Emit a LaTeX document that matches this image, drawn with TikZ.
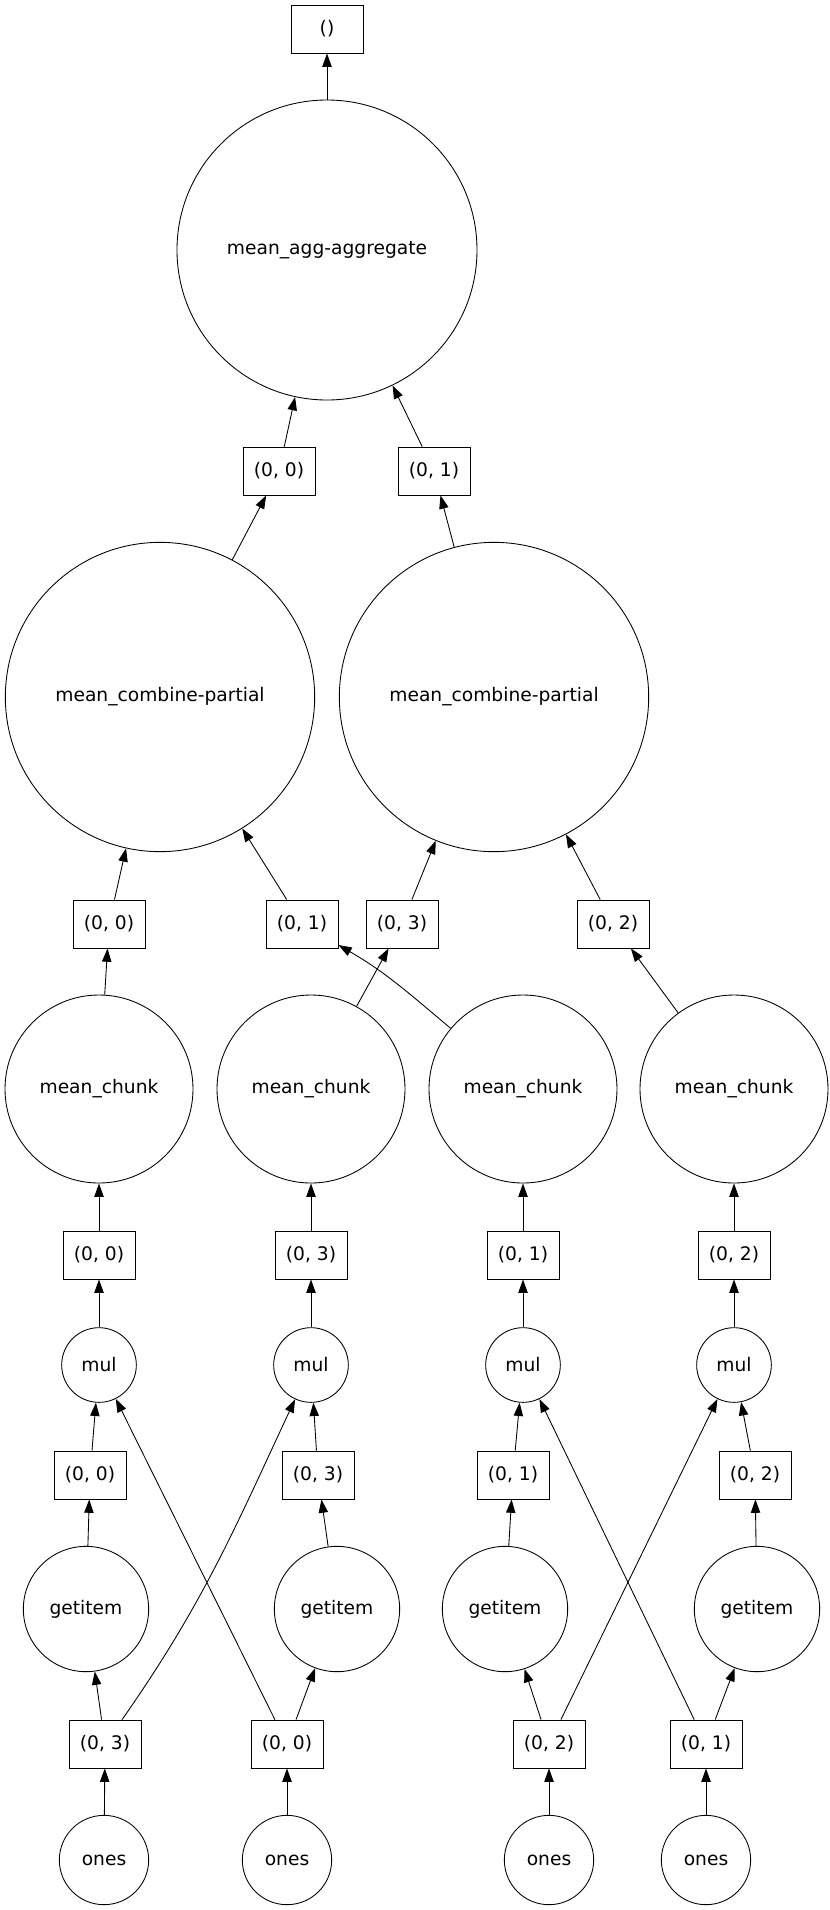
\documentclass[tikz,border=0pt]{standalone}
\usepackage{fontspec}
\setmainfont{DejaVu Sans}
\usetikzlibrary{arrows.meta}

\begin{document}
\begin{tikzpicture}[x=0.75pt,y=0.75pt,
  font=\fontsize{14pt}{16pt}\selectfont,
  task/.style={draw, circle, inner sep=0pt, line width=0.65pt},
  chunkkey/.style={draw, rectangle, minimum width=54pt, minimum height=36pt, inner sep=2pt, line width=0.65pt},
  dep/.style={draw, line width=0.65pt, -{Triangle[length=10pt,width=7pt]}}]
\useasboundingbox (0,0) rectangle (830,-1910);

\node[chunkkey] (out) at (327,-29) {()};
\node[task, minimum size=225pt] (agg) at (327,-250) {mean\_agg-aggregate};
\node[chunkkey] (t0) at (279,-471) {(0, 0)};
\node[chunkkey] (t1) at (434,-471) {(0, 1)};

\node[task, minimum size=232pt] (comb1) at (160,-697) {mean\_combine-partial};
\node[task, minimum size=232pt] (comb2) at (494,-697) {mean\_combine-partial};

\node[chunkkey] (c0) at (109,-924) {(0, 0)};
\node[chunkkey] (c1) at (302,-924) {(0, 1)};
\node[chunkkey] (c3) at (402,-924) {(0, 3)};
\node[chunkkey] (c2) at (613,-924) {(0, 2)};

\node[task, minimum size=141pt] (chunk1) at (99,-1089) {mean\_chunk};
\node[task, minimum size=141pt] (chunk2) at (311,-1089) {mean\_chunk};
\node[task, minimum size=141pt] (chunk3) at (523,-1089) {mean\_chunk};
\node[task, minimum size=141pt] (chunk4) at (734,-1089) {mean\_chunk};

\node[chunkkey] (m0) at (99,-1255) {(0, 0)};
\node[chunkkey] (m3) at (311,-1255) {(0, 3)};
\node[chunkkey] (m1) at (523,-1255) {(0, 1)};
\node[chunkkey] (m2) at (734,-1255) {(0, 2)};

\node[task, minimum size=56pt] (mul1) at (99,-1365) {mul};
\node[task, minimum size=56pt] (mul2) at (311,-1365) {mul};
\node[task, minimum size=56pt] (mul3) at (523,-1365) {mul};
\node[task, minimum size=56pt] (mul4) at (734,-1365) {mul};

\node[chunkkey] (g0) at (90,-1475) {(0, 0)};
\node[chunkkey] (g3) at (318,-1475) {(0, 3)};
\node[chunkkey] (g1) at (513,-1475) {(0, 1)};
\node[chunkkey] (g2) at (755,-1475) {(0, 2)};

\node[task, minimum size=94pt] (get1) at (86,-1609) {getitem};
\node[task, minimum size=94pt] (get2) at (337,-1609) {getitem};
\node[task, minimum size=94pt] (get3) at (505,-1609) {getitem};
\node[task, minimum size=94pt] (get4) at (757,-1609) {getitem};

\node[chunkkey] (o3) at (105,-1744) {(0, 3)};
\node[chunkkey] (o0) at (287,-1744) {(0, 0)};
\node[chunkkey] (o2) at (549,-1744) {(0, 2)};
\node[chunkkey] (o1) at (706,-1744) {(0, 1)};

\node[task, minimum size=67pt] (ones1) at (104,-1860) {ones};
\node[task, minimum size=67pt] (ones2) at (287,-1860) {ones};
\node[task, minimum size=67pt] (ones3) at (549,-1860) {ones};
\node[task, minimum size=67pt] (ones4) at (706,-1860) {ones};

% ones -> keys
\path[dep] (ones1) -- (o3);
\path[dep] (ones2) -- (o0);
\path[dep] (ones3) -- (o2);
\path[dep] (ones4) -- (o1);

% keys -> getitem / mul
\path[dep] (o3) -- (get1);
\path[dep] (o3) to[out=55,in=-115] (mul2);
\path[dep] (o0) -- (get2);
\path[dep] (o0) -- (mul1);
\path[dep] (o2) -- (get3);
\path[dep] (o2) -- (mul4);
\path[dep] (o1) -- (get4);
\path[dep] (o1) -- (mul3);

\path[dep] (get1) -- (g0);
\path[dep] (get2) -- (g3);
\path[dep] (get3) -- (g1);
\path[dep] (get4) -- (g2);

\path[dep] (g0) -- (mul1);
\path[dep] (g3) -- (mul2);
\path[dep] (g1) -- (mul3);
\path[dep] (g2) -- (mul4);

% mul -> mean_chunk
\path[dep] (mul1) -- (m0);
\path[dep] (mul2) -- (m3);
\path[dep] (mul3) -- (m1);
\path[dep] (mul4) -- (m2);
\path[dep] (m0) -- (chunk1);
\path[dep] (m3) -- (chunk2);
\path[dep] (m1) -- (chunk3);
\path[dep] (m2) -- (chunk4);

% mean_chunk -> combine
\path[dep] (chunk1) -- (c0);
\path[dep] (chunk2) -- (c3);
\path[dep] (chunk3) to[out=140,in=-30] (c1);
\path[dep] (chunk4) -- (c2);
\path[dep] (c0) -- (comb1);
\path[dep] (c1) -- (comb1);
\path[dep] (c3) -- (comb2);
\path[dep] (c2) -- (comb2);

% combine -> aggregate
\path[dep] (comb1) -- (t0);
\path[dep] (comb2) -- (t1);
\path[dep] (t0) -- (agg);
\path[dep] (t1) -- (agg);
\path[dep] (agg) -- (out);

\end{tikzpicture}
\end{document}
